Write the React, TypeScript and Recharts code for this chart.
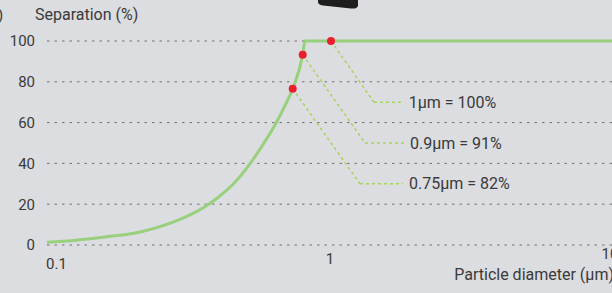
import { LineChart, Line, XAxis, YAxis, CartesianGrid, ReferenceLine, ReferenceDot } from 'recharts';

// particle diameter (µm) and separation (%)
const diameters = [0.1, 0.124, 0.162, 0.213, 0.279, 0.355, 0.4, 0.45, 0.515, 0.58, 0.64, 0.69, 0.733, 0.795, 0.81, 1, 10];
const separation = [1.4, 2.2, 4.0, 6.4, 11.3, 18.3, 23.3, 29.5, 39.3, 49.9, 59.7, 68.6, 76.6, 93.2, 100, 100, 100];

const xTicks = [0.1, 1, 10];
const yTicks = [0, 20, 40, 60, 80, 100];

// highlighted points and their callouts
const markD = [1, 0.795, 0.733];
const markS = [100, 93.2, 76.6];
const markLabels = ['1μm = 100%', '0.9μm = 91%', '0.75μm = 82%'];
const elbowD = [1.417, 1.318, 1.265];
const elbowS = [70, 50, 30];
const endD = [1.79, 1.807, 1.793];

const data = diameters.map((d, i) => ({ d, s: separation[i] }));

const FONT = 'Roboto, "Liberation Sans", sans-serif';
const TEXT = '#3a3a3a';
const CURVE = '#98d07c';
const LEADER = '#a6d45c';
const RED = '#ea1f2b';

// the tick labels in the picture sit a little lower towards the left
const tickDy: Record<string, number> = { '0.1': 10, '1': 5.5, '10': 0 };
const tickDx: Record<string, number> = { '0.1': -1, '1': -1, '10': -5 };

function XTick(props: any) {
  const { x, y, payload } = props;
  const v = String(payload.value);
  const first = v === '0.1';
  return (
    <text
      x={x + (tickDx[v] ?? 0)}
      y={y + 2 + (tickDy[v] ?? 0)}
      textAnchor={first ? 'start' : 'middle'}
      dominantBaseline="middle"
      fill={TEXT}
      fontSize={15}
      fontFamily={FONT}
    >
      {v}
    </text>
  );
}

export default function App() {
  return (
    <div
      style={{
        position: 'absolute',
        left: 0,
        top: 0,
        width: 612,
        height: 293,
        overflow: 'hidden',
        background: '#dcdde0',
        fontFamily: FONT,
      }}
    >
      <LineChart width={640} height={293} data={data} margin={{ top: 41, right: 25, bottom: 17, left: 0 }}>
        <CartesianGrid vertical={false} stroke="#707070" strokeDasharray="2.5 5" />
        <XAxis
          dataKey="d"
          type="number"
          scale="log"
          domain={[0.1, 10]}
          ticks={xTicks}
          allowDataOverflow
          axisLine={false}
          tickLine={false}
          height={31}
          tick={<XTick />}
          interval={0}
        />
        <YAxis
          type="number"
          domain={[0, 100]}
          ticks={yTicks}
          width={47}
          axisLine={false}
          tickLine={false}
          tickSize={0}
          tickMargin={12}
          tick={{ fill: TEXT, fontSize: 15, fontFamily: FONT }}
        />
        <Line
          dataKey="s"
          type="monotone"
          stroke={CURVE}
          strokeWidth={3}
          dot={false}
          activeDot={false}
          isAnimationActive={false}
        />
        {markD.map((d, i) => (
          <ReferenceLine
            key={'a' + i}
            segment={[
              { x: d, y: markS[i] },
              { x: elbowD[i], y: elbowS[i] },
            ]}
            stroke={LEADER}
            strokeWidth={1.5}
            strokeDasharray="3 3"
          />
        ))}
        {markD.map((d, i) => (
          <ReferenceLine
            key={'b' + i}
            segment={[
              { x: elbowD[i], y: elbowS[i] },
              { x: endD[i], y: elbowS[i] },
            ]}
            stroke={LEADER}
            strokeWidth={1.5}
            strokeDasharray="3 3"
          />
        ))}
        {markD.map((d, i) => (
          <ReferenceDot
            key={'t' + i}
            x={endD[i]}
            y={elbowS[i]}
            r={0}
            stroke="none"
            label={{
              value: markLabels[i],
              position: 'right',
              offset: 6,
              fill: TEXT,
              fontSize: 16,
              fontFamily: FONT,
            }}
          />
        ))}
        {markD.map((d, i) => (
          <ReferenceDot key={'m' + i} x={d} y={markS[i]} r={4} fill={RED} stroke="none" />
        ))}
      </LineChart>
      <svg width={612} height={293} style={{ position: 'absolute', left: 0, top: 0, pointerEvents: 'none' }}>
        <text x={-2} y={20} fill={TEXT} fontSize={15} fontFamily={FONT}>)</text>
        <text x={35} y={20} fill={TEXT} fontSize={16} fontFamily={FONT}>Separation (%)</text>
        <text x={614} y={280} textAnchor="end" fill={TEXT} fontSize={16} fontFamily={FONT}>
          Particle diameter (μm)
        </text>
        <path d="M318,0 L358,0 L358,6 Q357,9 351,8.5 L323,5.5 Q318,4.5 318,2 Z" fill="#1e1e1e" />
      </svg>
    </div>
  );
}
